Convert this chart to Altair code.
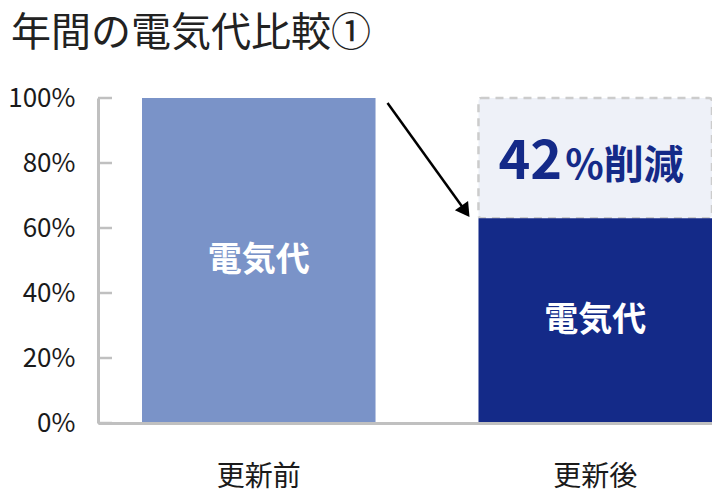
import altair as alt
import pandas as pd

# ---- data ----
categories = ["更新前", "更新後"]
values = [100, 63]
bar_colors = ["#7a93c8", "#142a88"]
bar_label = "電気代"
y_ticks = [0, 20, 40, 60, 80, 100]
reduction_number = "42"
reduction_suffix = "%削減"
title_text = "年間の電気代比較①"

FONT = "Noto Sans CJK JP"

bars_df = pd.DataFrame({
    "cat": categories,
    "value": values,
    "mid": [v / 2 for v in values],
    "label": [bar_label] * len(categories),
})
box_df = pd.DataFrame({
    "cat": [categories[1]],
    "lo": [values[1]],
    "hi": [values[0]],
    "mid": [(values[0] + values[1]) / 2],
    "num": [reduction_number],
    "suf": [reduction_suffix],
})
arrow_df = pd.DataFrame({
    "cat": [categories[0]],
    "cat2": [categories[1]],
    "y1": [values[0]],
    "y2": [values[1]],
})
ticks_df = pd.DataFrame({"v": y_ticks})

xscale = alt.Scale(domain=categories, paddingInner=0.306, paddingOuter=0.0654, align=1)
yscale = alt.Scale(domain=[0, 100], nice=False)

x_axis = alt.Axis(title=None, labelAngle=0, labelFontSize=28, labelFont=FONT,
                  labelColor="#1a1a1a", labelPadding=40, ticks=False,
                  domainColor="#c0c0c0", domainWidth=3, grid=False)
y_axis = alt.Axis(title=None, values=y_ticks, labelExpr="datum.value + '%'",
                  labelFontSize=26, labelFont=FONT, labelColor="#1a1a1a",
                  labelPadding=23, ticks=False, domainColor="#c0c0c0",
                  domainWidth=3, grid=False)


def X(field="cat", **kw):
    return alt.X(f"{field}:N", scale=xscale, sort=categories, axis=x_axis, **kw)


def Y(field, **kw):
    return alt.Y(f"{field}:Q", scale=yscale, axis=y_axis, **kw)


box = alt.Chart(box_df).mark_rect(
    fill="#eef1f8", stroke="#cccccc", strokeWidth=2.5, strokeDash=[8, 6], cornerRadius=3
).encode(x=X(), y=Y("lo"), y2="hi")

bars = alt.Chart(bars_df).mark_bar().encode(
    x=X(), y=Y("value"),
    color=alt.Color("cat:N", scale=alt.Scale(domain=categories, range=bar_colors), legend=None),
)

bar_text = alt.Chart(bars_df).mark_text(
    font=FONT, fontSize=34, fontWeight="bold", color="white", baseline="middle"
).encode(x=X(), y=Y("mid"), text="label:N")

num_text = alt.Chart(box_df).mark_text(
    font=FONT, fontSize=54, fontWeight="bold", color="#142a88",
    align="right", baseline="alphabetic", dx=-33, dy=21
).encode(x=X(), y=Y("mid"), text="num:N")

suf_text = alt.Chart(box_df).mark_text(
    font=FONT, fontSize=40, fontWeight="bold", color="#142a88",
    align="left", baseline="alphabetic", dx=-30, dy=21
).encode(x=X(), y=Y("mid"), text="suf:N")

arrow_line = alt.Chart(arrow_df).mark_rule(
    color="black", strokeWidth=2.5, xOffset=12, yOffset=5, x2Offset=-13, y2Offset=-7
).encode(
    x=X("cat", bandPosition=1),
    x2=alt.X2("cat2", bandPosition=0),
    y=Y("y1"), y2="y2",
)

arrow_head = alt.Chart(arrow_df).mark_point(
    shape="triangle-up", angle=145, filled=True, color="black", opacity=1,
    size=260, xOffset=-13, yOffset=-7
).encode(x=X("cat2", bandPosition=0), y=Y("y2"))

tick_marks = alt.Chart(ticks_df).mark_rule(color="#c0c0c0", strokeWidth=2.5).encode(
    y=Y("v"), x=alt.value(0), x2=alt.value(14)
)

chart = alt.layer(
    tick_marks, box, bars, bar_text, num_text, suf_text, arrow_line, arrow_head
).properties(
    width=614,
    height=325,
    autosize="none",
    padding={"left": 90, "top": 90, "right": 0, "bottom": 70},
    title=alt.Title(title_text, anchor="start", frame="group", dx=-87,
                    font=FONT, fontSize=40, fontWeight="normal", color="#222222", offset=31),
).configure_view(stroke=None)

chart.save("out.html", embed_options={"renderer": "svg", "actions": False})
